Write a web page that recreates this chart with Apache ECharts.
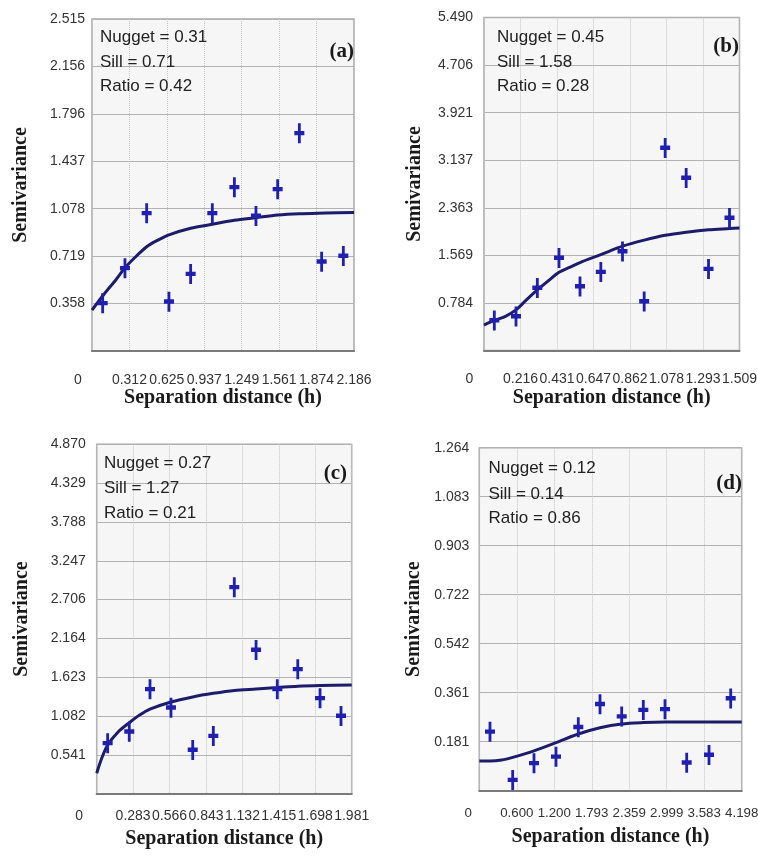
<!DOCTYPE html>
<html>
<head>
<meta charset="utf-8">
<script src="https://cdn.jsdelivr.net/npm/echarts@6/dist/echarts.min.js"></script>
<style>
  html, body { margin: 0; padding: 0; background: #ffffff; }
  #chart { width: 758px; height: 857px; }
</style>
</head>
<body>
<div id="chart"></div>
<script>
// ---- Experimental semivariance (lag, gamma) for the four variograms ----
const lagA = [0.089, 0.275, 0.456, 0.642, 0.823, 1.004, 1.188, 1.368, 1.549, 1.730, 1.916, 2.097];
const gammaA = [0.361, 0.626, 1.043, 0.374, 0.583, 1.043, 1.240, 1.023, 1.225, 1.649, 0.677, 0.720];
const lagB = [0.061, 0.189, 0.315, 0.443, 0.567, 0.690, 0.818, 0.946, 1.070, 1.194, 1.326, 1.450];
const gammaB = [0.495, 0.561, 1.030, 1.525, 1.056, 1.293, 1.634, 0.809, 3.340, 2.845, 1.343, 2.185];
const lagC = [0.085, 0.253, 0.414, 0.577, 0.746, 0.906, 1.069, 1.238, 1.403, 1.562, 1.735, 1.898];
const gammaC = [0.704, 0.865, 1.456, 1.200, 0.610, 0.805, 2.877, 2.004, 1.456, 1.735, 1.331, 1.084];
const lagD = [0.171, 0.534, 0.875, 1.227, 1.584, 1.931, 2.278, 2.624, 2.971, 3.318, 3.675, 4.022];
const gammaD = [0.217, 0.039, 0.101, 0.125, 0.234, 0.319, 0.273, 0.297, 0.300, 0.103, 0.132, 0.340];

// ---- Fitted model curves ----
const modelHA = [0, 0.1, 0.2, 0.275, 0.36, 0.456, 0.55, 0.642, 0.823, 1.004, 1.188, 1.368, 1.549, 1.73, 1.95, 2.186];
const modelGA = [0.31, 0.43, 0.54, 0.63, 0.71, 0.79, 0.84, 0.88, 0.93, 0.96, 0.99, 1.01, 1.03, 1.04, 1.045, 1.05];
const modelHB = [0, 0.061, 0.124, 0.189, 0.252, 0.315, 0.38, 0.443, 0.505, 0.567, 0.69, 0.818, 0.946, 1.07, 1.194, 1.326, 1.45, 1.509];
const modelGB = [0.42, 0.495, 0.56, 0.67, 0.84, 1.0, 1.15, 1.29, 1.37, 1.45, 1.58, 1.72, 1.82, 1.90, 1.95, 1.99, 2.01, 2.02];
const modelHC = [0, 0.039, 0.085, 0.168, 0.253, 0.336, 0.414, 0.577, 0.746, 0.906, 1.069, 1.238, 1.403, 1.562, 1.735, 1.981];
const modelGC = [0.286, 0.495, 0.68, 0.865, 0.99, 1.10, 1.18, 1.28, 1.35, 1.40, 1.44, 1.46, 1.48, 1.50, 1.51, 1.516];
const modelHD = [0, 0.171, 0.358, 0.534, 0.875, 1.227, 1.584, 1.931, 2.278, 2.624, 2.971, 3.318, 4.198];
const modelGD = [0.109, 0.109, 0.113, 0.123, 0.147, 0.177, 0.209, 0.232, 0.246, 0.251, 0.253, 0.253, 0.253];

// ---- Tick labels ----
const xTicksA = ['0', '0.312', '0.625', '0.937', '1.249', '1.561', '1.874', '2.186'];
const yTicksA = ['0', '0.358', '0.719', '1.078', '1.437', '1.796', '2.156', '2.515'];
const xTicksB = ['0', '0.216', '0.431', '0.647', '0.862', '1.078', '1.293', '1.509'];
const yTicksB = ['0', '0.784', '1.569', '2.363', '3.137', '3.921', '4.706', '5.490'];
const xTicksC = ['0', '0.283', '0.566', '0.843', '1.132', '1.415', '1.698', '1.981'];
const yTicksC = ['0', '0.541', '1.082', '1.623', '2.164', '2.706', '3.247', '3.788', '4.329', '4.870'];
const xTicksD = ['0', '0.600', '1.200', '1.793', '2.359', '2.999', '3.583', '4.198'];
const yTicksD = ['0', '0.181', '0.361', '0.542', '0.722', '0.903', '1.083', '1.264'];

// ---- Model parameters ----
const panelTags = ['(a)', '(b)', '(c)', '(d)'];
const nuggets = [0.31, 0.45, 0.27, 0.12];
const sills = [0.71, 1.58, 1.27, 0.14];
const ratios = [0.42, 0.28, 0.21, 0.86];

const zip = (xs, ys) => xs.map((x, i) => [x, ys[i]]);

const panels = [
  { lag: lagA, gamma: gammaA, mh: modelHA, mg: modelGA, xt: xTicksA, yt: yTicksA,
    box: { left: 92, top: 19, width: 262, height: 332 }, yMargin: 7, xMargin: 22, zeroPad: 28, yGap: 61, xGap: 37,
    xSize: 14, text: { x: 100, y: [37.5, 62, 86] }, tag: { x: 354, y: 52 } },
  { lag: lagB, gamma: gammaB, mh: modelHB, mg: modelGB, xt: xTicksB, yt: yTicksB,
    box: { left: 484, top: 17.5, width: 255.5, height: 333 }, yMargin: 11, xMargin: 22, zeroPad: 29, yGap: 59, xGap: 34,
    xSize: 14, text: { x: 497, y: [37.5, 62, 86] }, tag: { x: 739, y: 47 } },
  { lag: lagC, gamma: gammaC, mh: modelHC, mg: modelGC, xt: xTicksC, yt: yTicksC,
    box: { left: 96.7, top: 444.3, width: 255, height: 349.5 }, yMargin: 11, xMargin: 15, zeroPad: 35, yGap: 65, xGap: 35,
    xSize: 14, text: { x: 104, y: [463.5, 488.5, 513.5] }, tag: { x: 347, y: 473.5 } },
  { lag: lagD, gamma: gammaD, mh: modelHD, mg: modelGD, xt: xTicksD, yt: yTicksD,
    box: { left: 479.3, top: 447.7, width: 262.4, height: 343 }, yMargin: 10, xMargin: 16, zeroPad: 22, yGap: 55, xGap: 36,
    xSize: 13.3, text: { x: 488.5, y: [468.5, 494, 518.5] }, tag: { x: 742, y: 483.5 } }
];

const tickFont = "'Liberation Sans', Arial, sans-serif";
const tickSize = 14;
const serifFont = "'Liberation Serif', 'DejaVu Serif', serif";
const crossPath = 'path://M3.6,0 L6.4,0 L6.4,7.6 L10,7.6 L10,12 L6.4,12 L6.4,20 L3.6,20 L3.6,12 L0,12 L0,7.6 L3.6,7.6 Z';

const grids = [], xAxes = [], yAxes = [], series = [], graphics = [];

panels.forEach((p, k) => {
  const xMax = parseFloat(p.xt[p.xt.length - 1]);
  const yMax = parseFloat(p.yt[p.yt.length - 1]);
  const xStep = xMax / (p.xt.length - 1);
  const yStep = yMax / (p.yt.length - 1);

  grids.push(Object.assign({
    show: true, backgroundColor: '#f6f6f6', borderColor: '#a6a6a6', borderWidth: 1.5,
    containLabel: false, outerBoundsMode: 'none'
  }, p.box));

  const xLabelStyle = { fontFamily: tickFont, fontSize: p.xSize, color: '#333333' };
  const yLabelStyle = { fontFamily: tickFont, fontSize: tickSize, color: '#333333' };

  xAxes.push({
    type: 'value', gridIndex: k, min: 0, max: xMax, interval: xStep,
    name: 'Separation distance (h)', nameLocation: 'middle', nameGap: p.xGap,
    nameTextStyle: { fontFamily: serifFont, fontWeight: 'bold', fontSize: 20, color: '#1a1a1a' },
    axisLine: { show: true, onZero: false, lineStyle: { color: '#7a7a7a', width: 2 } },
    axisTick: { show: false },
    axisLabel: Object.assign({
      margin: p.xMargin, showMinLabel: true, showMaxLabel: true, hideOverlap: false,
      formatter: v => {
        const i = Math.round(v / xStep);
        return i === 0 ? '{z|0}' : (p.xt[i] || '');
      },
      rich: { z: Object.assign({ padding: [0, p.zeroPad, 0, 0] }, xLabelStyle) }
    }, xLabelStyle),
    splitLine: { show: true, lineStyle: { color: '#c4c4c4', type: 'dotted', width: 1 } }
  });

  yAxes.push({
    type: 'value', gridIndex: k, min: 0, max: yMax, interval: yStep,
    name: 'Semivariance', nameLocation: 'middle', nameGap: p.yGap, nameRotate: 90,
    nameTextStyle: { fontFamily: serifFont, fontWeight: 'bold', fontSize: 20, color: '#1a1a1a' },
    axisLine: { show: false },
    axisTick: { show: false },
    axisLabel: Object.assign({
      margin: p.yMargin, showMinLabel: true, showMaxLabel: true, hideOverlap: false,
      formatter: v => {
        const i = Math.round(v / yStep);
        return i === 0 ? '' : (p.yt[i] || '');
      }
    }, yLabelStyle),
    splitLine: { show: true, lineStyle: { color: '#b2b2b2', type: 'solid', width: 1 } }
  });

  series.push({
    type: 'line', xAxisIndex: k, yAxisIndex: k,
    data: zip(p.mh, p.mg), smooth: 0.3, showSymbol: false, symbol: 'none',
    lineStyle: { color: '#1c1c6a', width: 3 }, z: 3, silent: true, animation: false
  });
  series.push({
    type: 'scatter', xAxisIndex: k, yAxisIndex: k,
    data: zip(p.lag, p.gamma), symbol: crossPath, symbolSize: [10, 20],
    itemStyle: { color: '#1f1fb0', opacity: 1 }, z: 4, silent: true, animation: false
  });

  const lines = [
    'Nugget = ' + nuggets[k].toFixed(2),
    'Sill = ' + sills[k].toFixed(2),
    'Ratio = ' + ratios[k].toFixed(2)
  ];
  lines.forEach((t, j) => {
    graphics.push({
      type: 'text', x: p.text.x, y: p.text.y[j], z: 10, silent: true,
      style: { text: t, fill: '#222222', font: "17px 'Liberation Sans', Arial, sans-serif",
               align: 'left', verticalAlign: 'middle' }
    });
  });
  graphics.push({
    type: 'text', x: p.tag.x, y: p.tag.y, z: 10, silent: true,
    style: { text: panelTags[k], fill: '#1a1a1a', font: "bold 21px 'Liberation Serif', serif",
             align: 'right', verticalAlign: 'middle' }
  });
});

const chart = echarts.init(document.getElementById('chart'), null, { renderer: 'canvas' });
chart.setOption({
  backgroundColor: '#ffffff',
  animation: false,
  grid: grids,
  xAxis: xAxes,
  yAxis: yAxes,
  series: series,
  graphic: graphics
});
</script>
</body>
</html>
